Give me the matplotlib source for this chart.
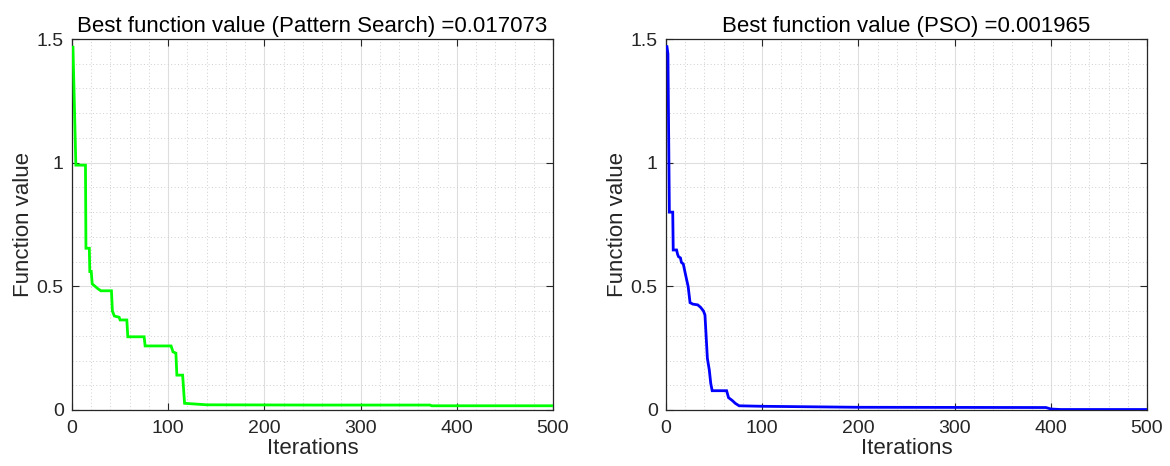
import matplotlib
matplotlib.use("Agg")
import matplotlib.pyplot as plt
from matplotlib.ticker import MultipleLocator

plt.rcParams['font.family'] = ['Liberation Sans', 'DejaVu Sans']

# Pattern Search convergence (iteration, best value)
ps_iter = [1, 4, 14, 14.5, 18, 18.5, 20, 21, 24, 27, 30, 41, 42, 44, 49, 50, 57, 58, 75, 76,
           103, 105, 108, 109, 115, 117, 140, 250, 372, 374, 500]
ps_val = [1.467, 0.99, 0.99, 0.654, 0.654, 0.56, 0.56, 0.51, 0.50, 0.49, 0.482, 0.482, 0.40,
          0.38, 0.375, 0.364, 0.364, 0.296, 0.296, 0.259, 0.259, 0.235, 0.23, 0.141, 0.141,
          0.027, 0.021, 0.020, 0.020, 0.017073, 0.017073]

# PSO convergence (iteration, best value)
pso_iter = [1, 2, 3.5, 7, 7.5, 11, 12, 13, 15, 16, 18, 20, 21.5, 23, 25, 28, 33, 36, 39, 40.5,
            43, 45, 46.5, 48, 63, 65, 69, 72, 76, 100, 200, 395, 400, 410, 500]
pso_val = [1.469, 1.44, 0.80, 0.80, 0.647, 0.647, 0.63, 0.62, 0.615, 0.597, 0.59, 0.553, 0.526,
           0.50, 0.434, 0.428, 0.425, 0.415, 0.40, 0.384, 0.209, 0.162, 0.108, 0.078, 0.078,
           0.050, 0.038, 0.027, 0.017, 0.015, 0.011, 0.010, 0.004, 0.002, 0.001965]

titles = ["Best function value (Pattern Search) =0.017073",
          "Best function value (PSO) =0.001965"]
x_ticks = [0, 100, 200, 300, 400, 500]
y_ticks = [0, 0.5, 1, 1.5]
y_ticklabels = ["0", "0.5", "1", "1.5"]

W, H = 1170, 466
fig = plt.figure(figsize=(W / 100, H / 100), dpi=100)

panels = [
    (72, ps_iter, ps_val, "#00FF00", titles[0]),
    (666, pso_iter, pso_val, "#0000FF", titles[1]),
]
txtc = "#262626"
for left, xs, ys, col, title in panels:
    ax = fig.add_axes([left / W, (H - 410) / H, 481 / W, 371 / H])
    ax.plot(xs, ys, color=col, lw=2.0, zorder=3, solid_joinstyle='miter')
    ax.set_xlim(0, 500)
    ax.set_ylim(0, 1.5)
    ax.set_xticks(x_ticks)
    ax.set_yticks(y_ticks)
    ax.set_yticklabels(y_ticklabels)
    ax.xaxis.set_minor_locator(MultipleLocator(20))
    ax.yaxis.set_minor_locator(MultipleLocator(0.1))
    ax.grid(which='major', color='#dedede', lw=0.8, ls='-')
    ax.grid(which='minor', color='#cfcfcf', lw=0.7, ls=(0, (1, 2.5)))
    ax.set_axisbelow(True)
    ax.tick_params(which='major', direction='in', length=5, width=0.8, top=True, right=True,
                   labelsize=14, colors=txtc, labelcolor=txtc)
    ax.tick_params(axis='x', which='major', pad=7)
    ax.tick_params(axis='y', which='major', pad=6)
    ax.tick_params(which='minor', length=0)
    for s in ax.spines.values():
        s.set_color(txtc)
        s.set_linewidth(0.9)
    ax.set_xlabel("Iterations", fontsize=16, color=txtc, labelpad=1)
    ax.set_ylabel("Function value", fontsize=16, color=txtc, labelpad=2)
    ax.set_title(title, fontsize=16, color='black', pad=5)

fig.savefig("out.png", dpi=100)
